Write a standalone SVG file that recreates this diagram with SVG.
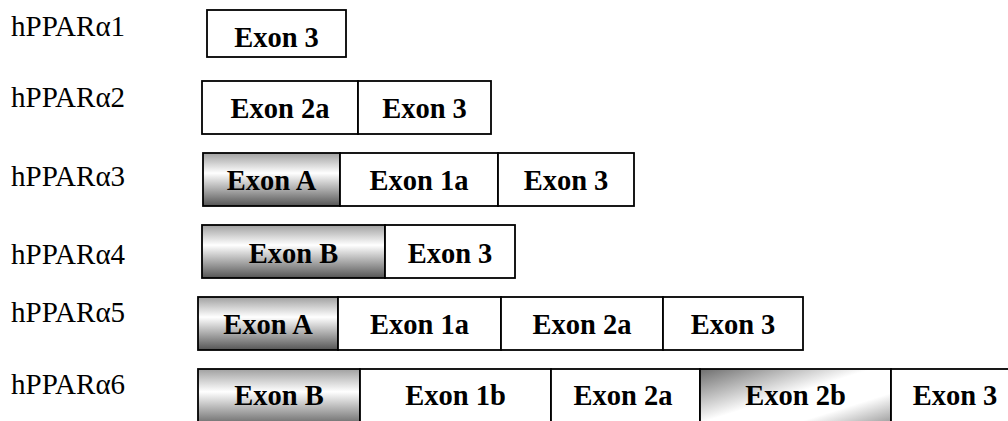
<svg xmlns="http://www.w3.org/2000/svg" width="1008" height="421" viewBox="0 0 1008 421">
  <defs>
    <linearGradient id="gShade" x1="0" y1="0" x2="0" y2="1">
      <stop offset="0" stop-color="#a0a0a0"/>
      <stop offset="0.38" stop-color="#ffffff"/>
      <stop offset="1" stop-color="#555555"/>
    </linearGradient>
    <linearGradient id="gDiag" x1="0" y1="0" x2="1" y2="1">
      <stop offset="0" stop-color="#6e6e6e"/>
      <stop offset="0.45" stop-color="#ffffff"/>
      <stop offset="0.7" stop-color="#ffffff"/>
      <stop offset="1" stop-color="#8a8a8a"/>
    </linearGradient>
    <style>
      .box { fill: #ffffff; stroke: #000000; stroke-width: 1.8; }
      .shade { fill: url(#gShade); stroke: #000000; stroke-width: 1.8; }
      .diag { fill: url(#gDiag); stroke: #000000; stroke-width: 1.8; }
      .lbl { font-family: "Liberation Serif", "Times New Roman", serif; font-size: 29px; fill: #000000; }
      .ex { font-family: "Liberation Serif", "Times New Roman", serif; font-size: 28.5px; font-weight: bold; fill: #000000; text-anchor: middle; }
    </style>
  </defs>
  <rect x="0" y="0" width="1008" height="421" fill="#ffffff"/>

  <g id="hPPARa1">
    <text class="lbl" x="11" y="36">hPPARα1</text>
    <rect class="box" x="207" y="10" width="139" height="47"/>
    <text class="ex" x="276.5" y="47">Exon 3</text>
  </g>

  <g id="hPPARa2">
    <text class="lbl" x="11" y="107">hPPARα2</text>
    <rect class="box" x="202" y="81" width="156" height="53"/>
    <rect class="box" x="358" y="81" width="133" height="53"/>
    <text class="ex" x="280" y="118">Exon 2a</text>
    <text class="ex" x="424.5" y="118">Exon 3</text>
  </g>

  <g id="hPPARa3">
    <text class="lbl" x="11" y="186">hPPARα3</text>
    <rect class="shade" x="203" y="153" width="137" height="53"/>
    <rect class="box" x="340" y="153" width="158" height="53"/>
    <rect class="box" x="498" y="153" width="136" height="53"/>
    <text class="ex" x="271.5" y="190">Exon A</text>
    <text class="ex" x="419" y="190">Exon 1a</text>
    <text class="ex" x="566" y="190">Exon 3</text>
  </g>

  <g id="hPPARa4">
    <text class="lbl" x="11" y="264">hPPARα4</text>
    <rect class="shade" x="202" y="225" width="183" height="53"/>
    <rect class="box" x="385" y="225" width="130" height="53"/>
    <text class="ex" x="293.5" y="263">Exon B</text>
    <text class="ex" x="450" y="263">Exon 3</text>
  </g>

  <g id="hPPARa5">
    <text class="lbl" x="11" y="322">hPPARα5</text>
    <rect class="shade" x="198" y="297" width="140" height="53"/>
    <rect class="box" x="338" y="297" width="163" height="53"/>
    <rect class="box" x="501" y="297" width="162" height="53"/>
    <rect class="box" x="663" y="297" width="140" height="53"/>
    <text class="ex" x="268" y="334">Exon A</text>
    <text class="ex" x="419.5" y="334">Exon 1a</text>
    <text class="ex" x="582" y="334">Exon 2a</text>
    <text class="ex" x="733" y="334">Exon 3</text>
  </g>

  <g id="hPPARa6">
    <text class="lbl" x="11" y="394">hPPARα6</text>
    <rect class="shade" x="198" y="369" width="162" height="60"/>
    <rect class="box" x="360" y="369" width="191" height="60"/>
    <rect class="box" x="551" y="369" width="149" height="60"/>
    <rect class="diag" x="700" y="369" width="191" height="60"/>
    <rect class="box" x="891" y="369" width="130" height="60"/>
    <text class="ex" x="279" y="405">Exon B</text>
    <text class="ex" x="455.5" y="405">Exon 1b</text>
    <text class="ex" x="623" y="405">Exon 2a</text>
    <text class="ex" x="795.5" y="405">Exon 2b</text>
    <text class="ex" x="955" y="405">Exon 3</text>
  </g>

  <g id="connectors"/>
</svg>
